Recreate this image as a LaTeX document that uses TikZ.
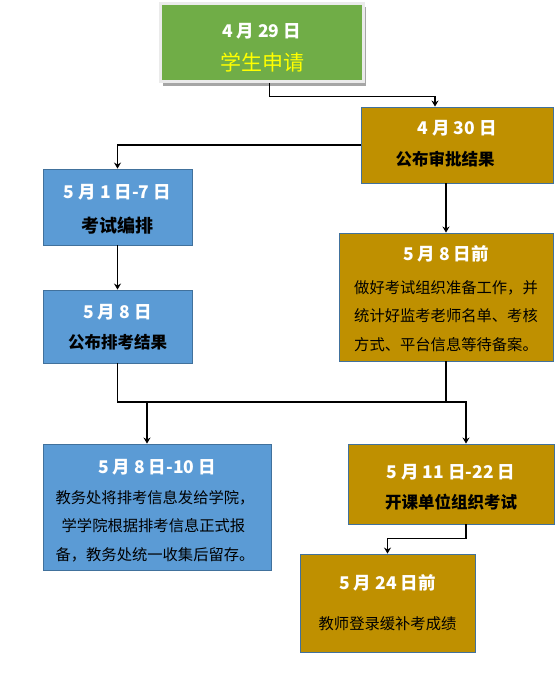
\documentclass[tikz,border=0pt]{standalone}
\usepackage{fontspec}
\setmainfont{Noto Sans CJK SC}
\usetikzlibrary{positioning,arrows.meta}
\definecolor{stepgreen}{HTML}{70AD47}
\definecolor{stepgold}{HTML}{BF9000}
\definecolor{stepblue}{HTML}{5B9BD5}
\definecolor{boxline}{HTML}{41719C}
\definecolor{applytext}{HTML}{FFFF00}

\begin{document}
\begin{tikzpicture}[x=1pt, y=-1pt,
    box/.style={draw=boxline, line width=0.9pt, inner sep=0pt},
    goldbox/.style={box, fill=stepgold},
    bluebox/.style={box, fill=stepblue},
    datelbl/.style={font=\fontsize{17.5}{17.5}\selectfont\bfseries, text=white},
    titlelbl/.style={font=\fontsize{16.5}{16.5}\selectfont\bfseries},
    bodylbl/.style={font=\fontsize{15.3}{28.5}\selectfont, align=left},
    link/.style={line width=1.8pt, line join=miter},
    arr/.style={link, -{Stealth[length=6pt, width=7pt]}},
]
\useasboundingbox (0,0) rectangle (555,674);

% --- boxes ---
\fill[black!35] (163,7) rectangle (366,86);
\node[draw=black!8, line width=3pt, fill=stepgreen, minimum width=203, minimum height=78] (apply) at (261.5,43) {};
\node[goldbox, minimum width=192, minimum height=76] (publish) at (457,145) {};
\node[bluebox, minimum width=149, minimum height=76] (arrange) at (117.5,207) {};
\node[goldbox, minimum width=214, minimum height=128] (prepare) at (446,297) {};
\node[bluebox, minimum width=149, minimum height=73] (announce) at (117.5,326.5) {};
\node[bluebox, minimum width=228, minimum height=126] (notify) at (157,507) {};
\node[goldbox, minimum width=206, minimum height=80] (exam) at (451,484) {};
\node[goldbox, minimum width=175, minimum height=98] (score) at (387.5,603) {};

% --- texts ---
\node[datelbl] (applydate) at (261.5,31) {4 月 29 日};
\node[font=\fontsize{21}{21}\selectfont, text=applytext] (applytitle) at (262,62) {学生申请};

\node[datelbl] (publishdate) at (457,128) {4 月 30 日};
\node[titlelbl] (publishtitle) at (445,159) {公布审批结果};

\node[datelbl] (arrangedate) at (117.5,192) {5 月 1 日-7 日};
\node[titlelbl, font=\fontsize{18}{18}\selectfont\bfseries] (arrangetitle) at (117.5,226) {考试编排};

\node[datelbl] (preparedate) at (446,254) {5 月 8 日前};
\node[bodylbl] (preparebody) at (446,316) {做好考试组织准备工作，并\\统计好监考老师名单、考核\\方式、平台信息等待备案。};

\node[datelbl] (announcedate) at (117.5,312) {5 月 8 日};
\node[titlelbl] (announcetitle) at (117.5,342) {公布排考结果};

\node[datelbl] (notifydate) at (157,467) {5 月 8 日-10 日};
\node[bodylbl] (notifybody) at (155,526) {教务处将排考信息发给学院，\\\hspace{0.4em}学学院根据排考信息正式报\\备，教务处统一收集后留存。};

\node[datelbl] (examdate) at (451,472) {5 月 11 日-22 日};
\node[titlelbl] (examtitle) at (451,502) {开课单位组织考试};

\node[datelbl] (scoredate) at (387.5,583) {5 月 24 日前};
\node[bodylbl] (scorebody) at (387.5,624) {教师登录缓补考成绩};

% --- connectors ---
\coordinate (join) at (147,402);
\draw[arr] ([xshift=8]apply.south) -- ++(0,13) -| ([xshift=-22]publish.north);
\draw[arr] (publish.west) -| (arrange.north);
\draw[arr] (prepare.north |- publish.south) -- (prepare.north);
\draw[arr] (arrange.south) -- (announce.north);
\draw[link] (announce.south) |- (join);
\draw[link] (prepare.south) -- (prepare.south |- join);
\draw[arr] (join) -- (join |- notify.north);
\draw[arr] (join) -| ([xshift=15]exam.north);
\draw[arr] ([xshift=15]exam.south) -- ++(0,14) -| (score.north);

\end{tikzpicture}
\end{document}
